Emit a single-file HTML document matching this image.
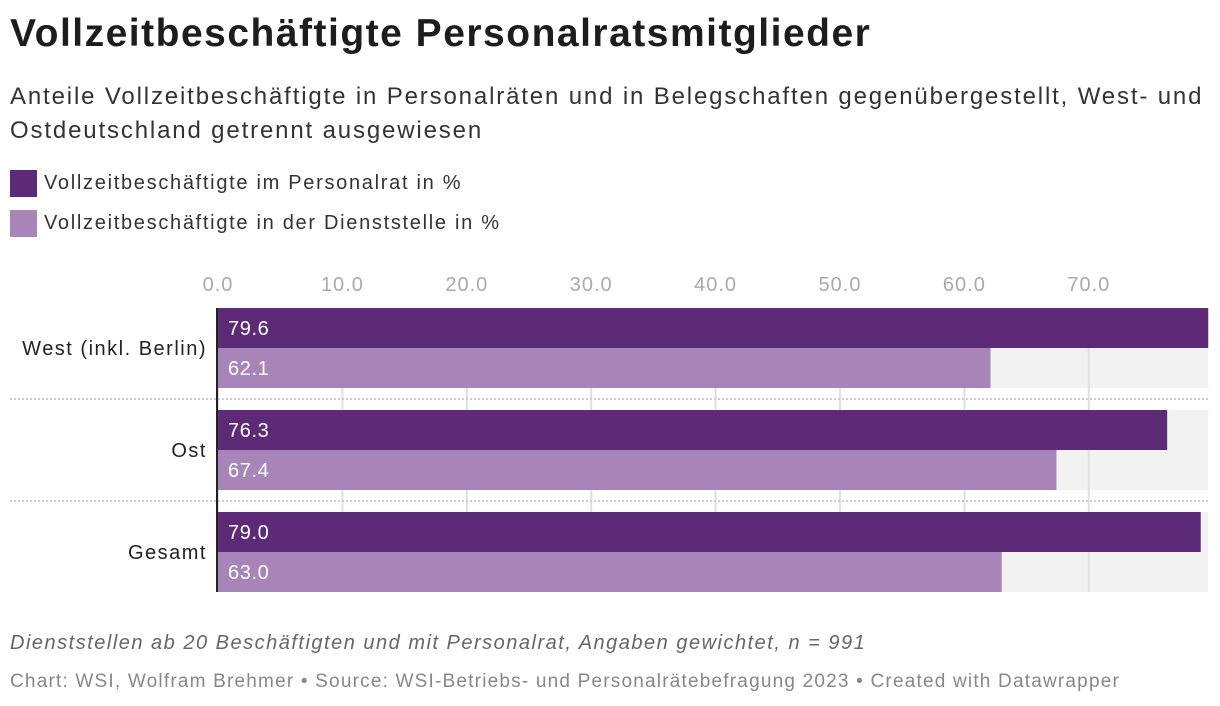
<!DOCTYPE html>
<html><head><meta charset="utf-8"><style>
body{margin:0;width:1220px;height:706px;background:#fff;font-family:"Liberation Sans",sans-serif;color:#1d1d1d;position:relative;overflow:hidden}
.abs{position:absolute}
h1{position:absolute;left:10px;top:12px;margin:0;font-size:39px;font-weight:bold;letter-spacing:1.5px;white-space:nowrap}
.sub{left:10px;top:80px;font-size:24px;line-height:34px;width:1210px;color:#333;letter-spacing:1.85px;white-space:nowrap}
.leg{left:10px;font-size:20px;color:#333;display:flex;align-items:center;letter-spacing:1.7px;white-space:nowrap}
.sw{width:27px;height:27px;margin-right:7px;display:inline-block}
.foot{left:10px;font-size:20px;color:#777;white-space:nowrap}
</style></head><body>
<h1>Vollzeitbeschäftigte Personalratsmitglieder</h1>
<div class="abs sub">Anteile Vollzeitbeschäftigte in Personalräten und in Belegschaften gegenübergestellt, West- und<br>Ostdeutschland getrennt ausgewiesen</div>
<div class="abs leg" style="top:170px"><span class="sw" style="background:#5c2a77"></span>Vollzeitbeschäftigte im Personalrat in %</div>
<div class="abs leg" style="top:210px"><span class="sw" style="background:#a885b9"></span>Vollzeitbeschäftigte in der Dienststelle in %</div>
<svg class="abs" style="left:0;top:0" width="1220" height="706" id="chart"></svg>
<div class="abs foot" style="top:632px;font-style:italic;color:#666;letter-spacing:1.5px">Dienststellen ab 20 Beschäftigten und mit Personalrat, Angaben gewichtet, n = 991</div>
<div class="abs foot" style="top:671px;font-size:19px;color:#888;letter-spacing:1.2px">Chart: WSI, Wolfram Brehmer • Source: WSI-Betriebs- und Personalrätebefragung 2023 • Created with Datawrapper</div>
<script>
const categories=["West (inkl. Berlin)","Ost","Gesamt"];
const personalrat=[79.6,76.3,79.0];
const dienststelle=[62.1,67.4,63.0];
const ticks=[0,10,20,30,40,50,60,70];
const NS="http://www.w3.org/2000/svg";
const svg=document.getElementById('chart');
const x0=218,pxPer=12.44,maxV=79.6;
const xs=v=>x0+v*pxPer;
const top0=308,grp=102,bh=40;
function mk(t,a){const e=document.createElementNS(NS,t);for(const k in a)e.setAttribute(k,a[k]);svg.appendChild(e);return e;}
categories.forEach((c,i)=>{const y=top0+i*grp;
 const b=mk('rect',{x:x0,y:y,width:xs(maxV)-x0,height:bh*2,fill:'#f2f2f2'});
 
 
});
ticks.forEach(t=>{
 const l=mk('line',{x1:xs(t),x2:xs(t),y1:top0,y2:top0+2*grp+2*bh,stroke:'#e0e0e0','stroke-width':2});
 
 
 const tx=mk('text',{x:xs(t),y:291,'text-anchor':'middle','font-size':20,fill:'#aaa','letter-spacing':'1px'});
 tx.textContent=t.toFixed(1);
 
 
});
categories.forEach((c,i)=>{const y=top0+i*grp;
 if(i>0){const s=mk('line',{x1:10,x2:xs(maxV),y1:y-11,y2:y-11,stroke:'#ccc','stroke-width':2,'stroke-dasharray':'2,2'});
  
  }
 const r1=mk('rect',{x:x0,y:y,width:xs(personalrat[i])-x0,height:bh,fill:'#5c2a77'});
 
 
 const r2=mk('rect',{x:x0,y:y+bh,width:xs(dienststelle[i])-x0,height:bh,fill:'#a885b9'});
 
 
 const v1=mk('text',{x:x0+10,y:y+27,'font-size':20,fill:'#fff','letter-spacing':'0.6px'});v1.textContent=personalrat[i].toFixed(1);
 
 
 const v2=mk('text',{x:x0+10,y:y+bh+27,'font-size':20,fill:'#fff','letter-spacing':'0.6px'});v2.textContent=dienststelle[i].toFixed(1);
 
 
 const cl=mk('text',{x:207,y:y+bh+7,'text-anchor':'end','font-size':20,fill:'#222','letter-spacing':'1.5px'});cl.textContent=c;
 
 
});
const ax=mk('line',{x1:217,x2:217,y1:top0,y2:top0+2*grp+2*bh,stroke:'#222','stroke-width':2});


</script>
</body></html>
